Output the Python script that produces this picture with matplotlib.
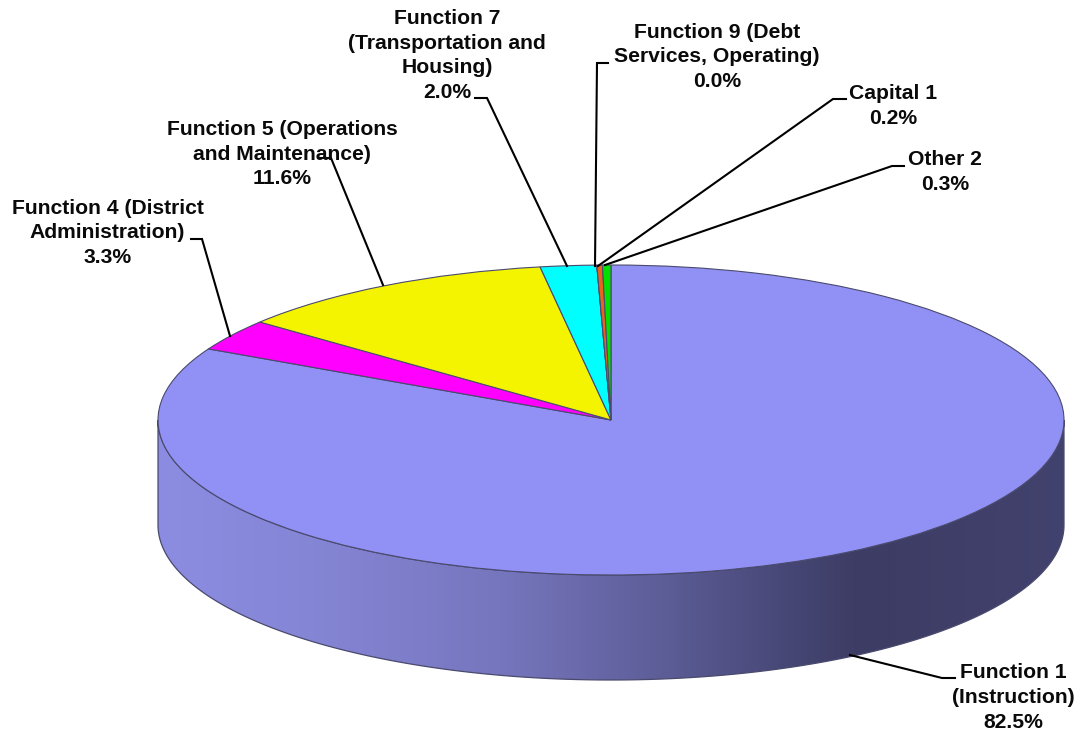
import numpy as np
import matplotlib
matplotlib.use("Agg")
import matplotlib.pyplot as plt
from matplotlib.patches import Polygon

categories = ["Function 1\n(Instruction)", "Function 4 (District\nAdministration)",
              "Function 5 (Operations\nand Maintenance)", "Function 7\n(Transportation and\nHousing)",
              "Function 9 (Debt\nServices, Operating)", "Capital 1", "Other 2"]
values = [82.5, 3.3, 11.6, 2.0, 0.0, 0.2, 0.3]
colors = ["#9191F5", "#FF00FF", "#F4F400", "#00FFFF", "#8080FF", "#E8641E", "#00E000"]

# layout, in reference pixels
W, H = 1078, 733
CX, CY, RX, RY, DEPTH = 611, 420, 453, 155, 105
label_pos = [(1013, 697.5), (107.5, 233), (282, 154), (447, 55.5), (717, 57), (893, 106), (945, 172)]
leaders = [
    [(955, 678), (942, 678), (850, 655)],
    [(191, 239), (202, 239), (230, 336)],
    [(319, 158), (331, 158), (383, 285)],
    [(475, 98), (487, 98), (567, 266)],
    [(608, 63), (597, 63), (595, 266)],
    [(846, 99), (833, 99), (598, 266)],
    [(904, 166), (892, 166), (605, 265)],
]
# wall shading: pixel x -> colour
grad_x = [157, 300, 500, 650, 780, 860, 1065]
grad_c = [(140, 140, 226), (134, 134, 215), (118, 118, 190), (95, 95, 155), (72, 72, 120), (60, 60, 100), (66, 66, 110)]

plt.rcParams["font.family"] = ["Liberation Sans", "DejaVu Sans"]
fig = plt.figure(figsize=(W / 100, H / 100), dpi=100, facecolor="white")
ax = fig.add_axes([0, 0, 1, 1])
xlim = ((0 - CX) / RX, (W - CX) / RX)
ylim = ((CY - H) / RY, CY / RY)
d = DEPTH / RY

# side wall
t = np.linspace(np.pi, 2 * np.pi, 400)
top = np.column_stack([np.cos(t), np.sin(t)])
bot = np.column_stack([np.cos(t[::-1]), np.sin(t[::-1]) - d])
poly = np.vstack([top, bot])
xs = np.arange(W)
grad = np.array([np.interp(xs, grad_x, [c[i] for c in grad_c]) for i in range(3)]).T[None, :, :] / 255
im = ax.imshow(grad, extent=(xlim[0], xlim[1], ylim[0], ylim[1]), aspect="auto", zorder=1, interpolation="bilinear")
clip = Polygon(poly, closed=True, transform=ax.transData, fc="none", ec="#4A4A6E", lw=0.9, zorder=2)
ax.add_patch(clip)
im.set_clip_path(clip)

# top face
wedges, _ = ax.pie(values, colors=colors, startangle=90, counterclock=False, radius=1, center=(0, 0),
                   wedgeprops=dict(edgecolor="#4A4A6E", linewidth=0.8, zorder=3), normalize=True)
ax.set_xlim(xlim)
ax.set_ylim(ylim)
ax.set_aspect("auto")
ax.axis("off")

# overlay in pixel coordinates for labels and leaders
ov = fig.add_axes([0, 0, 1, 1], facecolor="none")
ov.set_xlim(0, W)
ov.set_ylim(H, 0)
ov.axis("off")
for cat, val, (x, y), leader in zip(categories, values, label_pos, leaders):
    ov.text(x, y, f"{cat}\n{val:.1f}%", ha="center", va="center", multialignment="center",
            fontsize=15.2, fontweight="bold", color="#0A0A0A", linespacing=1.38)
    lx, ly = zip(*leader)
    ov.plot(lx, ly, color="black", lw=1.5, solid_joinstyle="miter")

fig.savefig("out.png", dpi=100)
